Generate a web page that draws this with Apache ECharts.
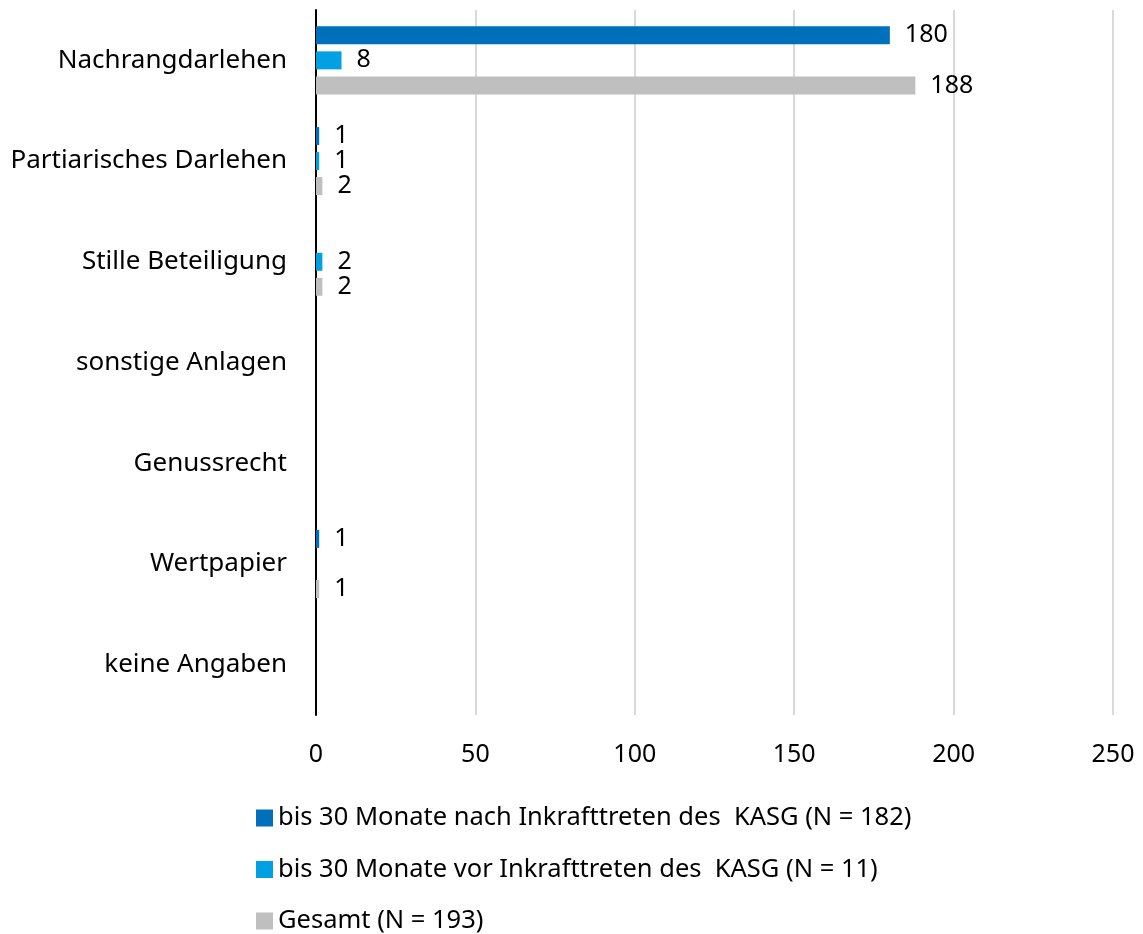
<!DOCTYPE html>
<html>
<head>
<meta charset="utf-8">
<script src="https://cdn.jsdelivr.net/npm/echarts@6/dist/echarts.min.js"></script>
<style>
  html, body { margin: 0; padding: 0; background: #fff; }
  #chart { width: 1143px; height: 934px; }
</style>
</head>
<body>
<div id="chart"></div>
<script>
const categories = ['Nachrangdarlehen', 'Partiarisches Darlehen', 'Stille Beteiligung', 'sonstige Anlagen', 'Genussrecht', 'Wertpapier', 'keine Angaben']
const nachData = [180, 1, null, null, null, 1, null]
const vorData = [8, 1, 2, null, null, null, null]
const gesamtData = [188, 2, 2, null, null, 1, null]
const seriesNames = [
  'bis 30 Monate nach Inkrafttreten des  KASG (N = 182)',
  'bis 30 Monate vor Inkrafttreten des  KASG (N = 11)',
  'Gesamt (N = 193)'
]

const chart = echarts.init(document.getElementById('chart'))
const font = 'Noto Sans'
const label = {
  show: true,
  position: 'right',
  distance: 15,
  color: '#000',
  fontFamily: font,
  fontSize: 25
}
const option = {
  animation: false,
  textStyle: { fontFamily: font },
  grid: { left: 316, right: 30, top: 10, bottom: 219 },
  legend: {
    orient: 'vertical',
    left: 251,
    top: 800,
    height: 134,
    itemWidth: 17,
    itemHeight: 17,
    itemGap: 25.5,
    icon: 'rect',
    textStyle: { color: '#000', fontFamily: font, fontSize: 25.5, lineHeight: 26 },
    data: seriesNames
  },
  xAxis: {
    type: 'value',
    min: 0,
    max: 250,
    interval: 50,
    axisLine: { show: false },
    axisTick: { show: false },
    splitLine: { lineStyle: { color: '#D9D9D9', width: 2 } },
    axisLabel: { color: '#000', fontSize: 25, margin: 27 }
  },
  yAxis: {
    type: 'category',
    inverse: true,
    data: categories,
    axisLine: { show: true, lineStyle: { color: '#000', width: 2 } },
    axisTick: { show: false },
    axisLabel: { color: '#000', fontSize: 26, margin: 29 }
  },
  series: [
    { name: seriesNames[0], type: 'bar', data: nachData, barWidth: 18, barGap: '39%', itemStyle: { color: '#0070BA' }, label: label },
    { name: seriesNames[1], type: 'bar', data: vorData, barWidth: 18, barGap: '39%', itemStyle: { color: '#00A0E3' }, label: label },
    { name: seriesNames[2], type: 'bar', data: gesamtData, barWidth: 18, barGap: '39%', itemStyle: { color: '#BFBFBF' }, label: label }
  ]
}
chart.setOption(option)
</script>
</body>
</html>
